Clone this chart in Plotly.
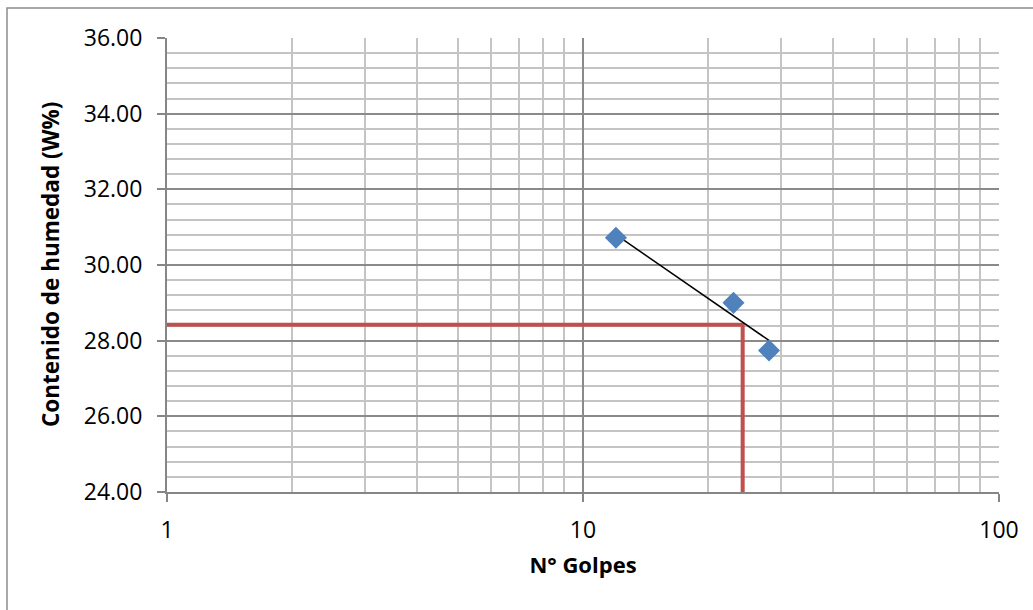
import numpy as np
import plotly.graph_objects as go

# Ensayo de límite líquido: número de golpes vs contenido de humedad
golpes = [12, 23, 28]
humedad = [30.72, 29.00, 27.74]

# Lectura del límite líquido sobre la recta
ll_golpes = 24.2
ll_humedad = 28.42

y_ticks = [24, 26, 28, 30, 32, 34, 36]
x_ticks = [1, 10, 100]
x_minor = [2, 3, 4, 5, 6, 7, 8, 9, 20, 30, 40, 50, 60, 70, 80, 90]

# Recta de tendencia logarítmica ajustada a los puntos
b, a = np.polyfit(np.log(golpes), humedad, 1)
xt = np.array([min(golpes), max(golpes)], dtype=float)
yt = a + b * np.log(xt)

font = "Open Sans"
major_grid = "#8a8a8a"
minor_grid = "#c4c4c4"

fig = go.Figure()

fig.add_trace(go.Scatter(
    x=[1, ll_golpes, ll_golpes], y=[ll_humedad, ll_humedad, 24],
    mode="lines", line=dict(color="#C0504D", width=4),
    hoverinfo="skip", showlegend=False,
))
fig.add_trace(go.Scatter(
    x=xt, y=yt, mode="lines",
    line=dict(color="black", width=1.5),
    showlegend=False,
))
fig.add_trace(go.Scatter(
    x=golpes, y=humedad, mode="markers",
    marker=dict(symbol="diamond", size=17, color="#4F81BD",
                line=dict(width=0)),
    showlegend=False,
))

fig.update_layout(
    width=1033, height=610,
    margin=dict(l=167, r=34, t=38, b=118),
    paper_bgcolor="white", plot_bgcolor="white",
    font=dict(family=font, size=23, color="black"),
    xaxis=dict(
        type="log", range=[0, 2],
        tickvals=x_ticks, ticktext=[str(v) for v in x_ticks],
        showgrid=True, gridcolor=major_grid, gridwidth=1.5,
        minor=dict(tickvals=x_minor, showgrid=True,
                   gridcolor=minor_grid, gridwidth=1.5, ticks=""),
        showline=True, linecolor="#868686", linewidth=2,
        ticks="outside", ticklen=8, tickcolor="#868686", tickwidth=2,
        ticklabelstandoff=8,
        zeroline=False,
        title=dict(text="<b>N° Golpes</b>", standoff=14,
                   font=dict(family=font, size=22)),
    ),
    yaxis=dict(
        range=[24, 36],
        tickvals=y_ticks, tickformat=".2f",
        showgrid=True, gridcolor=major_grid, gridwidth=1.5,
        minor=dict(dtick=0.4, showgrid=True,
                   gridcolor=minor_grid, gridwidth=1.5, ticks=""),
        showline=True, linecolor="#868686", linewidth=2,
        ticks="outside", ticklen=8, tickcolor="#868686", tickwidth=2,
        ticklabelstandoff=10,
        zeroline=False,
    ),
    annotations=[dict(
        text="<b>Contenido de humedad (W%)</b>", textangle=-90,
        xref="paper", yref="paper", x=-0.1406, y=0.5,
        xanchor="center", yanchor="middle", showarrow=False,
        font=dict(family=font, size=22.5, color="black"),
    )],
    shapes=[dict(
        type="rect", xref="paper", yref="paper",
        x0=-0.1923, x1=1.06, y0=-0.28, y1=1.066,
        line=dict(color="#8c8c8c", width=1.5), layer="below",
    )],
)

fig.write_html("out.html")
